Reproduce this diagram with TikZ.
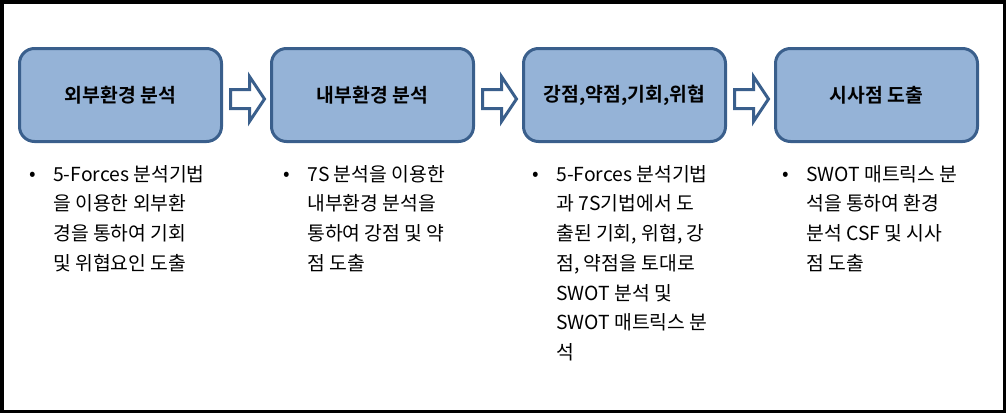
\documentclass[tikz,border=0pt]{standalone}
\usepackage{fontspec}
\setmainfont{Noto Sans CJK KR}[BoldFont={Noto Sans CJK KR Bold}]
\usetikzlibrary{positioning,calc}
\definecolor{boxfill}{HTML}{95B3D7}
\definecolor{boxline}{HTML}{3A5F8C}
\newcommand{\myunit}{0.75pt}
\tikzset{
    framesty/.style={draw=black, line width=3.5*\myunit},
    stagesty/.style={draw=boxline, fill=boxfill, line width=3*\myunit, rounded corners=15*\myunit,
                     minimum width=202*\myunit, minimum height=93*\myunit, inner sep=0pt,
                     font=\bfseries\fontsize{14.5pt}{17pt}\selectfont},
    blkarrsty/.style={draw=boxline, fill=white, line width=3*\myunit, line join=miter},
    notesty/.style={align=left, inner sep=0pt, anchor=north west,
                    font=\fontsize{14.5pt}{22.3pt}\selectfont},
    bulletsty/.style={inner sep=0pt, anchor=center, font=\fontsize{14.5pt}{22.3pt}\selectfont},
}

\begin{document}
\begin{tikzpicture}[x=\myunit, y=-\myunit]
  \useasboundingbox (0,0) rectangle (1006,414);
  \draw[framesty] (1.75,1.75) rectangle (1004.25,411.5);

  % stages
  \node[stagesty] (st1) at (120.5,95) {외부환경 분석};
  \node[stagesty, right=35.25pt of st1] (st2) {내부환경 분석};
  \node[stagesty, right=35.25pt of st2] (st3) {강점,약점,기회,위협};
  \node[stagesty, right=35.25pt of st3] (st4) {시사점 도출};

  % block arrows between stages
  \foreach \a/\b in {st1/st2, st2/st3, st3/st4}
  {
    \coordinate (mid) at ($(\a.east)!0.5!(\b.west)+(0,4)$);
    \draw[blkarrsty] ($(mid)+(-16,-9.5)$) -- ++(19,0) -- ++(0,-13) -- ++(15,22.5)
                     -- ++(-15,22.5) -- ++(0,-13) -- ++(-19,0) -- cycle;
  }

  % notes below the stages
  \node[notesty] (nt1) at ($(st1.south west)+(35,22)$)
    {5-Forces 분석기법\\을 이용한 외부환\\경을 통하여 기회\\및 위협요인 도출};
  \node[notesty] (nt2) at ($(st2.south west)+(37,22)$)
    {7S 분석을 이용한\\내부환경 분석을\\통하여 강점 및 약\\점 도출};
  \node[notesty] (nt3) at ($(st3.south west)+(34,22)$)
    {5-Forces 분석기법\\과 7S기법에서 도\\출된 기회, 위협, 강\\점, 약점을 토대로\\SWOT 분석 및\\SWOT 매트릭스 분\\석};
  \node[notesty] (nt4) at ($(st4.south west)+(32,22)$)
    {SWOT 매트릭스 분\\석을 통하여 환경\\분석 CSF 및 시사\\점 도출};

  \foreach \n in {1,2,3,4}
    \node[bulletsty] (bu\n) at ($(nt\n.north west)+(-20,11)$) {•};
\end{tikzpicture}
\end{document}
